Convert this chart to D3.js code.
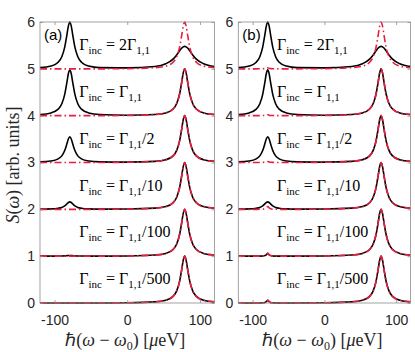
<!DOCTYPE html>
<html>
<head>
<meta charset="utf-8">
<script src="https://cdn.jsdelivr.net/npm/d3@7"></script>
<style>
body { margin: 0; background: #fff; }
.tick text { font-family: "Liberation Sans", Arial, sans-serif; }
</style>
</head>
<body>
<div id="chart"></div>
<script>
var xGrid = [-120, -105, -95, -90, -86, -83, -81, -79, -77, -75, -72, -68, -63, -53, -38,
             0,
             38, 53, 63, 68, 72, 75, 77, 79, 81, 83, 86, 90, 95, 105, 120];

// peak shapes read around the two lines (15 points each, around -79 or +79)
var peak100 = [0.025, 0.059, 0.142, 0.259, 0.463, 0.725, 0.913, 1, 0.913, 0.725, 0.463, 0.259, 0.142, 0.059, 0.025];
var peak098 = [0.025, 0.058, 0.139, 0.254, 0.454, 0.711, 0.895, 0.98, 0.895, 0.711, 0.454, 0.254, 0.139, 0.058, 0.025];
var peak055 = [0.014, 0.032, 0.078, 0.142, 0.255, 0.399, 0.502, 0.55, 0.502, 0.399, 0.255, 0.142, 0.078, 0.032, 0.014];
var peak016 = [0.004, 0.009, 0.023, 0.041, 0.074, 0.116, 0.146, 0.16, 0.146, 0.116, 0.074, 0.041, 0.023, 0.009, 0.004];
var peak002 = [0, 0.001, 0.002, 0.004, 0.007, 0.011, 0.014, 0.015, 0.014, 0.011, 0.007, 0.004, 0.002, 0.001, 0];
var spike06 = [0, 0, 0, 0.001, 0.004, 0.012, 0.03, 0.06, 0.03, 0.012, 0.004, 0.001, 0, 0, 0];
var bump02  = [0, 0, 0, 0.001, 0.002, 0.005, 0.011, 0.02, 0.011, 0.005, 0.002, 0.001, 0, 0, 0];
var flat    = [0, 0, 0, 0, 0, 0, 0, 0, 0, 0, 0, 0, 0, 0, 0];
var broad048 = [0.050, 0.108, 0.208, 0.297, 0.384, 0.444, 0.470, 0.48, 0.470, 0.444, 0.384, 0.297, 0.208, 0.108, 0.050];

// one row per Γ_inc, from bottom (offset 0) to top (offset 5)
var blackA = [
  [].concat(flat, [0.005], peak100),
  [].concat(peak002, [0.005], peak100),
  [].concat(peak016, [0.006], peak100),
  [].concat(peak055, [0.008], peak100),
  [].concat(peak098, [0.01], peak100),
  [].concat(peak100, [0.02], broad048)
];
var redA = [
  [].concat(flat, [0.004], peak100),
  [].concat(flat, [0.004], peak100),
  [].concat(flat, [0.004], peak100),
  [].concat(flat, [0.004], peak100),
  [].concat(flat, [0.004], peak100),
  [].concat(flat, [0.004], peak100)
];
var blackB = [
  [].concat(spike06, [0.005], peak100),
  [].concat(spike06, [0.005], peak100),
  [].concat(peak016, [0.006], peak100),
  [].concat(peak055, [0.008], peak100),
  [].concat(peak098, [0.01], peak100),
  [].concat(peak100, [0.02], broad048)
];
var redB = [
  [].concat(spike06, [0.004], peak100),
  [].concat(spike06, [0.004], peak100),
  [].concat(spike06, [0.004], peak100),
  [].concat(bump02, [0.004], peak100),
  [].concat(bump02, [0.004], peak100),
  [].concat(bump02, [0.004], peak100)
];

var rowOffsets = [0, 1, 2, 3, 4, 5];
// label pieces alternate normal / subscript
var rowLabels = [
  ["Γ", "inc", " = Γ", "1,1", "/500"],
  ["Γ", "inc", " = Γ", "1,1", "/100"],
  ["Γ", "inc", " = Γ", "1,1", "/10"],
  ["Γ", "inc", " = Γ", "1,1", "/2"],
  ["Γ", "inc", " = Γ", "1,1", ""],
  ["Γ", "inc", " = 2Γ", "1,1", ""]
];
var xTicks = [-100, 0, 100];
var yTicks = [0, 1, 2, 3, 4, 5, 6];
var panelNames = ["(a)", "(b)"];

var width = 415, height = 352,
    plotTop = 22, plotBottom = 303;

var svg = d3.select("#chart").append("svg")
  .attr("width", width)
  .attr("height", height);

var panels = [
  {left: 40, right: 214.5, name: panelNames[0], black: blackA, red: redA},
  {left: 238.3, right: 410.5, name: panelNames[1], black: blackB, red: redB}
];

var y = d3.scaleLinear().domain([0, 6]).range([plotBottom, plotTop]);

panels.forEach(function(p, pi) {
  var x = d3.scaleLinear().domain([-120, 120]).range([p.left, p.right]);
  var g = svg.append("g");

  var clipId = "clip" + pi;
  g.append("clipPath").attr("id", clipId)
    .append("rect")
    .attr("x", p.left).attr("y", plotTop - 2)
    .attr("width", p.right - p.left).attr("height", plotBottom - plotTop + 4);

  var line = d3.line()
    .x(function(d) { return x(d[0]); })
    .y(function(d) { return y(d[1]); })
    .curve(d3.curveMonotoneX);

  var curves = g.append("g").attr("clip-path", "url(#" + clipId + ")");

  rowOffsets.forEach(function(off, i) {
    var bk = xGrid.map(function(v, j) { return [v, off + p.black[i][j]]; });
    var rd = xGrid.map(function(v, j) { return [v, off + p.red[i][j]]; });
    curves.append("path")
      .attr("d", line(bk))
      .attr("fill", "none")
      .attr("stroke", "#000")
      .attr("stroke-width", 1.6);
    curves.append("path")
      .attr("d", line(rd))
      .attr("fill", "none")
      .attr("stroke", "#ec1c3c")
      .attr("stroke-width", 1.6)
      .attr("stroke-dasharray", "7,3,1.5,3");
  });

  // row labels
  rowOffsets.forEach(function(off, i) {
    var t = g.append("text")
      .attr("x", x(-66))
      .attr("y", y(off + 0.4))
      .attr("font-family", "'Liberation Serif', 'Times New Roman', serif")
      .attr("font-size", 16)
      .attr("fill", "#000");
    rowLabels[i].forEach(function(s, k) {
      if (s === "") return;
      var sub = k % 2 === 1;
      var ts = t.append("tspan").text(s);
      if (sub) {
        ts.attr("font-size", 11).attr("dy", 4);
      } else if (k > 0) {
        ts.attr("dy", -4);
      }
    });
  });

  // box
  g.append("rect")
    .attr("x", p.left).attr("y", plotTop)
    .attr("width", p.right - p.left).attr("height", plotBottom - plotTop)
    .attr("fill", "none")
    .attr("stroke", "#8c8c8c")
    .attr("stroke-width", 0.8);

  // axes
  var axB = g.append("g").attr("transform", "translate(0," + plotBottom + ")")
    .call(d3.axisBottom(x).tickValues(xTicks).tickSize(-3).tickPadding(12).tickFormat(d3.format("d")));
  var axT = g.append("g").attr("transform", "translate(0," + plotTop + ")")
    .call(d3.axisTop(x).tickValues(xTicks).tickSize(-3).tickFormat(""));
  var axL = g.append("g").attr("transform", "translate(" + p.left + ",0)")
    .call(d3.axisLeft(y).tickValues(yTicks).tickSize(-3).tickPadding(5).tickFormat(d3.format("d")));
  var axR = g.append("g").attr("transform", "translate(" + p.right + ",0)")
    .call(d3.axisRight(y).tickValues(yTicks).tickSize(-3).tickFormat(""));
  [axB, axT, axL, axR].forEach(function(a) {
    a.select(".domain").remove();
    a.selectAll(".tick line").attr("stroke", "#8c8c8c").attr("stroke-width", 0.8);
    a.selectAll(".tick text").attr("font-size", 14).attr("fill", "#262626");
  });
  axB.selectAll(".tick text").text(function(d) { return d < 0 ? "-" + Math.abs(d) : d; });

  // panel tag
  g.append("text")
    .attr("x", p.left + 4)
    .attr("y", 40)
    .attr("font-family", "'Liberation Sans', Arial, sans-serif")
    .attr("font-size", 15)
    .attr("fill", "#000")
    .text(p.name);

  // x label
  var xl = g.append("text")
    .attr("x", (p.left + p.right) / 2 - 2)
    .attr("y", 346)
    .attr("text-anchor", "middle")
    .attr("font-family", "'Liberation Serif', 'Times New Roman', serif")
    .attr("font-size", 18)
    .attr("fill", "#262626");
  xl.append("tspan").text("ℏ(");
  xl.append("tspan").attr("font-style", "italic").text("ω");
  xl.append("tspan").text(" − ");
  xl.append("tspan").attr("font-style", "italic").text("ω");
  xl.append("tspan").attr("font-size", 12).attr("dy", 4).text("0");
  xl.append("tspan").attr("dy", -4).text(")  [");
  xl.append("tspan").attr("font-style", "italic").text("μ");
  xl.append("tspan").text("eV]");
});

// y label
var yl = svg.append("text")
  .attr("transform", "translate(19,165) rotate(-90)")
  .attr("text-anchor", "middle")
  .attr("font-family", "'Liberation Serif', 'Times New Roman', serif")
  .attr("font-size", 18)
  .attr("fill", "#262626");
yl.append("tspan").attr("font-style", "italic").text("S");
yl.append("tspan").text("(");
yl.append("tspan").attr("font-style", "italic").text("ω");
yl.append("tspan").text(")  [arb. units]");
</script>
</body>
</html>
